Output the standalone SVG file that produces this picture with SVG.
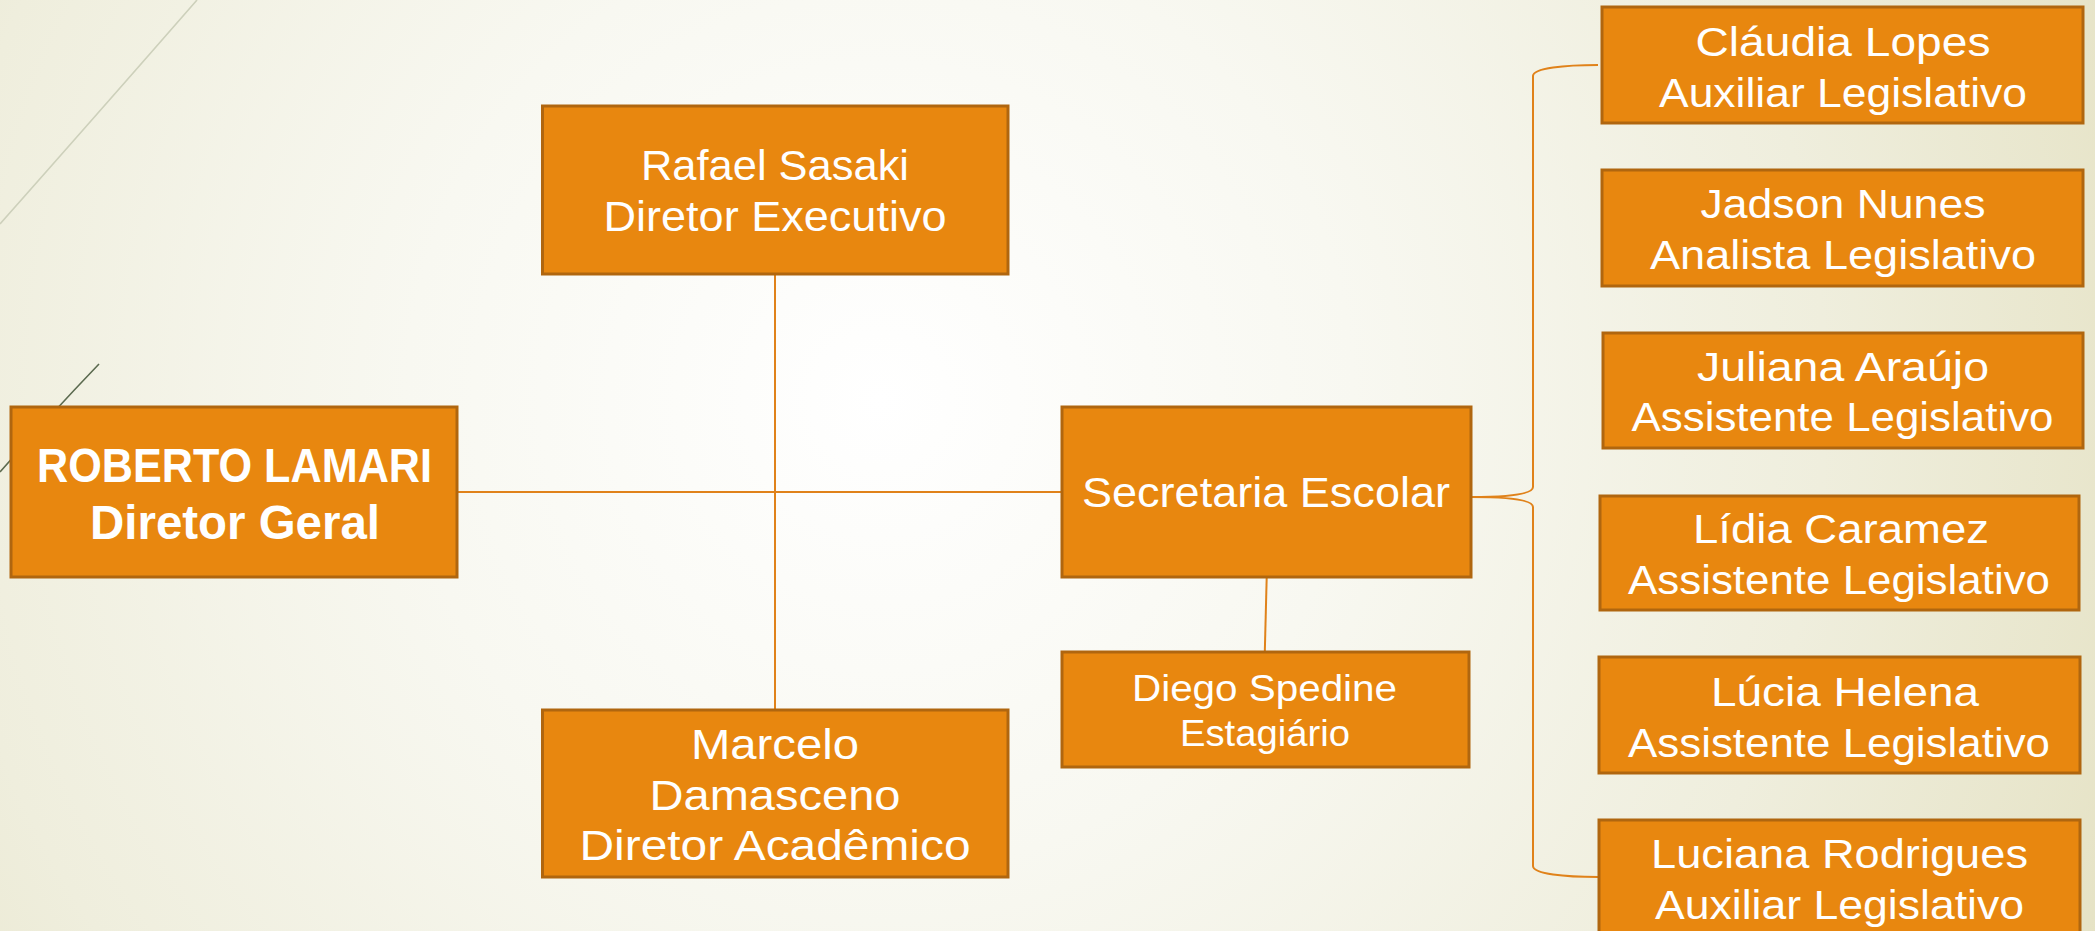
<svg xmlns="http://www.w3.org/2000/svg" width="2095" height="931" viewBox="0 0 2095 931">
<defs>
<radialGradient id="bg" cx="880" cy="400" r="1350" gradientUnits="userSpaceOnUse">
<stop offset="0" stop-color="#ffffff"/>
<stop offset="0.35" stop-color="#f8f8f1"/>
<stop offset="0.7" stop-color="#efeedd"/>
<stop offset="1" stop-color="#e5e2c4"/>
</radialGradient>
<style>
.box{fill:#E8870F;stroke:#B0660F;stroke-width:3}
.t{fill:#ffffff;font-family:"Liberation Sans",Arial,sans-serif;text-anchor:middle}
.n{font-size:41px}
.m{font-size:42px}
.s{font-size:36px}
.b{font-size:48px;font-weight:bold}
.c{fill:none;stroke:#E0821A;stroke-width:2}
</style>
</defs>
<rect x="0" y="0" width="2095" height="931" fill="url(#bg)"/>
<path d="M0,224 Q108,102 197,0" fill="none" stroke="#cdd0bb" stroke-width="1.6"/>
<path d="M0,472 Q50,415 99,364" fill="none" stroke="#5b6a4f" stroke-width="1.6"/>

<g id="connectors">
<line class="c" x1="457" y1="492" x2="1062" y2="492"/>
<line class="c" x1="775" y1="274" x2="775" y2="710"/>
<line class="c" x1="1266.7" y1="577" x2="1264.8" y2="652"/>
<path class="c" d="M1471,497 C1502,497 1533,495 1533,487 L1533,76 C1533,68 1565,65 1598,65"/>
<path class="c" d="M1471,497 C1502,497 1533,499 1533,507 L1533,866 C1533,874 1565,877 1598,877"/>
</g>

<g id="roberto">
<rect class="box" x="11" y="407" width="446" height="170"/>
<text class="t b" x="234.5" y="482" textLength="395" lengthAdjust="spacingAndGlyphs">ROBERTO LAMARI</text>
<text class="t b" x="235" y="539" textLength="290" lengthAdjust="spacingAndGlyphs">Diretor Geral</text>
</g>

<g id="rafael">
<rect class="box" x="542.5" y="106" width="465.5" height="168"/>
<text class="t m" x="775" y="180" textLength="268" lengthAdjust="spacingAndGlyphs">Rafael Sasaki</text>
<text class="t m" x="775" y="230.7" textLength="343" lengthAdjust="spacingAndGlyphs">Diretor Executivo</text>
</g>

<g id="marcelo">
<rect class="box" x="542.5" y="710" width="465.5" height="167"/>
<text class="t m" x="775" y="759" textLength="168" lengthAdjust="spacingAndGlyphs">Marcelo</text>
<text class="t m" x="775" y="810" textLength="251" lengthAdjust="spacingAndGlyphs">Damasceno</text>
<text class="t m" x="775" y="860" textLength="391" lengthAdjust="spacingAndGlyphs">Diretor Acadêmico</text>
</g>

<g id="secretaria">
<rect class="box" x="1062" y="407" width="409" height="170"/>
<text class="t m" x="1266" y="507" textLength="368" lengthAdjust="spacingAndGlyphs">Secretaria Escolar</text>
</g>

<g id="diego">
<rect class="box" x="1062" y="652" width="407" height="115"/>
<text class="t s" x="1264.5" y="700.7" textLength="265" lengthAdjust="spacingAndGlyphs">Diego Spedine</text>
<text class="t s" x="1265" y="745.7" textLength="170" lengthAdjust="spacingAndGlyphs">Estagiário</text>
</g>

<g id="claudia">
<rect class="box" x="1602" y="7" width="481" height="116"/>
<text class="t n" x="1843" y="56" textLength="295" lengthAdjust="spacingAndGlyphs">Cláudia Lopes</text>
<text class="t n" x="1843" y="107.3" textLength="368" lengthAdjust="spacingAndGlyphs">Auxiliar Legislativo</text>
</g>

<g id="jadson">
<rect class="box" x="1602" y="170" width="481" height="116"/>
<text class="t n" x="1843" y="218.3" textLength="285" lengthAdjust="spacingAndGlyphs">Jadson Nunes</text>
<text class="t n" x="1843" y="269.3" textLength="386" lengthAdjust="spacingAndGlyphs">Analista Legislativo</text>
</g>

<g id="juliana">
<rect class="box" x="1603" y="333" width="480" height="115"/>
<text class="t n" x="1843" y="380.7" textLength="292" lengthAdjust="spacingAndGlyphs">Juliana Araújo</text>
<text class="t n" x="1842.5" y="431" textLength="422" lengthAdjust="spacingAndGlyphs">Assistente Legislativo</text>
</g>

<g id="lidia">
<rect class="box" x="1600" y="496" width="479" height="114"/>
<text class="t n" x="1841" y="543.3" textLength="296" lengthAdjust="spacingAndGlyphs">Lídia Caramez</text>
<text class="t n" x="1839" y="594" textLength="422" lengthAdjust="spacingAndGlyphs">Assistente Legislativo</text>
</g>

<g id="lucia">
<rect class="box" x="1599" y="657" width="481" height="116"/>
<text class="t n" x="1845" y="706" textLength="268" lengthAdjust="spacingAndGlyphs">Lúcia Helena</text>
<text class="t n" x="1839" y="756.7" textLength="422" lengthAdjust="spacingAndGlyphs">Assistente Legislativo</text>
</g>

<g id="luciana">
<rect class="box" x="1599" y="820" width="481" height="120"/>
<text class="t n" x="1839.5" y="867.7" textLength="377" lengthAdjust="spacingAndGlyphs">Luciana Rodrigues</text>
<text class="t n" x="1839.5" y="919.3" textLength="369" lengthAdjust="spacingAndGlyphs">Auxiliar Legislativo</text>
</g>
</svg>
